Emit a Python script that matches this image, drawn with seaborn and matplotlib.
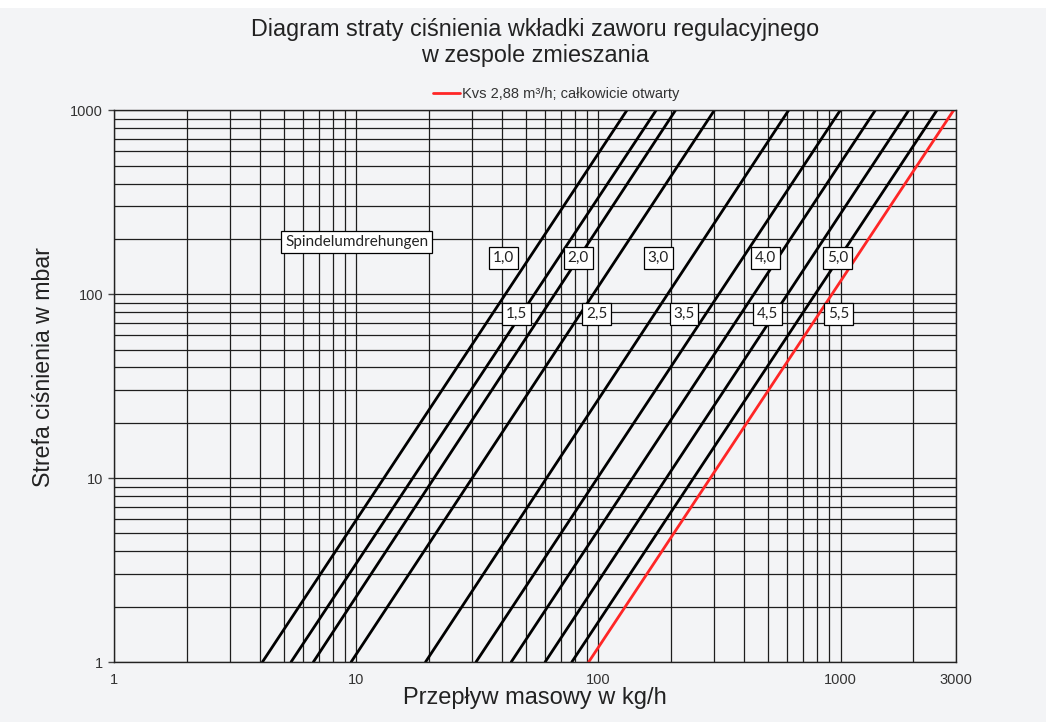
import pandas as pd
import matplotlib.pyplot as plt
import seaborn as sns
from matplotlib.lines import Line2D
from matplotlib.patches import Rectangle
from matplotlib.ticker import LogLocator, NullFormatter, FixedLocator, FixedFormatter

# flow (kg/h) where each curve crosses 1 mbar and 1000 mbar
curves = ["c1", "c2", "c3", "c4", "c5", "c6", "c7", "c8", "c9", "Kvs"]
flow_at_1mbar = [4.09, 5.37, 6.64, 9.51, 19.3, 31.2, 43.6, 60.2, 77.6, 91.1]
flow_at_1000mbar = [131, 173, 208, 301, 610, 997, 1391, 1912, 2500, 2931]
dp_ends = [1, 1000]

# spindle-turn labels and where they sit on the chart
turn_labels = ["1,0", "2,0", "3,0", "4,0", "5,0", "1,5", "2,5", "3,5", "4,5", "5,5"]
turn_x = [40.4, 82.4, 176.5, 491, 975, 45.7, 98.5, 225.6, 501, 983]
turn_y = [158, 158, 158, 158, 158, 78, 78, 78, 78, 78]

x_ticks = [1, 10, 100, 1000, 3000]
y_ticks = [1, 10, 100, 1000]

rows = []
for name, f1, f2 in zip(curves, flow_at_1mbar, flow_at_1000mbar):
    rows.append({"curve": name, "flow": f1, "dp": dp_ends[0]})
    rows.append({"curve": name, "flow": f2, "dp": dp_ends[1]})
df = pd.DataFrame(rows)

RED = "#ff2626"
BG = "#f3f4f6"
palette = {c: ("black" if c != "Kvs" else RED) for c in curves}

sns.set_theme(style="ticks")
plt.rcParams["font.family"] = ["Liberation Sans", "DejaVu Sans"]

fig = plt.figure(figsize=(10.46, 7.22), dpi=100, facecolor=BG)
fig.patches.append(Rectangle((0, 1 - 8 / 722), 1, 8 / 722, transform=fig.transFigure,
                             facecolor="white", edgecolor="none", zorder=0))
ax = fig.add_axes([0.1093, 0.0831, 0.8047, 0.7641])
ax.set_facecolor(BG)

sns.lineplot(data=df, x="flow", y="dp", hue="curve", hue_order=curves, palette=palette,
             estimator=None, sort=False, legend=False, linewidth=2, ax=ax)

ax.set_xscale("log")
ax.set_yscale("log")
ax.set_xlim(1, 3000)
ax.set_ylim(1, 1000)

ax.xaxis.set_major_locator(FixedLocator(x_ticks))
ax.xaxis.set_major_formatter(FixedFormatter([str(t) for t in x_ticks]))
ax.yaxis.set_major_locator(FixedLocator(y_ticks))
ax.yaxis.set_major_formatter(FixedFormatter([str(t) for t in y_ticks]))
for axis in (ax.xaxis, ax.yaxis):
    axis.set_minor_locator(LogLocator(base=10, subs=range(2, 10), numticks=20))
    axis.set_minor_formatter(NullFormatter())

ax.set_axisbelow(True)
ax.grid(True, which="both", color="#1e1e1e", linewidth=0.9)
ax.tick_params(axis="x", which="both", length=0, pad=8, labelsize=10.5, labelcolor="#333333")
ax.tick_params(axis="y", which="major", length=4, width=1, color="#444444", pad=4,
               labelsize=10.5, labelcolor="#333333")
ax.tick_params(axis="y", which="minor", length=0)
for sp in ax.spines.values():
    sp.set_color("#222222")
    sp.set_linewidth(1)

ax.set_xlabel("Przepływ masowy w kg/h", fontsize=17, color="#222222")
ax.set_ylabel("Strefa ciśnienia w mbar", fontsize=16.7, color="#222222")
ax.xaxis.set_label_coords(0.5, -0.045)
ax.yaxis.set_label_coords(-0.0705, 0.535)

ax.set_title("Diagram straty ciśnienia wkładki zaworu regulacyjnego\nw zespole zmieszania",
             fontsize=16.8, color="#222222", pad=35, linespacing=1.15)

# turn labels
box = dict(boxstyle="square,pad=0.25", facecolor="white", edgecolor="black", linewidth=0.9)
for s, x, y in zip(turn_labels, turn_x, turn_y):
    ax.text(x, y, s, ha="center", va="center", fontsize=11, family="Lato",
            color="#222222", bbox=box, zorder=5)
ax.text(5.07, 192, "Spindelumdrehungen", ha="left", va="center", fontsize=11, family="Lato",
        color="#222222", bbox=box, zorder=5)

# legend for the fully open valve
handle = Line2D([], [], color=RED, linewidth=2)
leg = ax.legend([handle], ["Kvs 2,88 m³/h; całkowicie otwarty"], loc="center",
                bbox_to_anchor=(0.5254, 1.029), frameon=False, handlelength=1.85,
                handletextpad=0.15, borderaxespad=0, borderpad=0, fontsize=10.5)
leg.get_texts()[0].set_color("#333333")

fig.savefig("out.png", dpi=100, facecolor=BG)
